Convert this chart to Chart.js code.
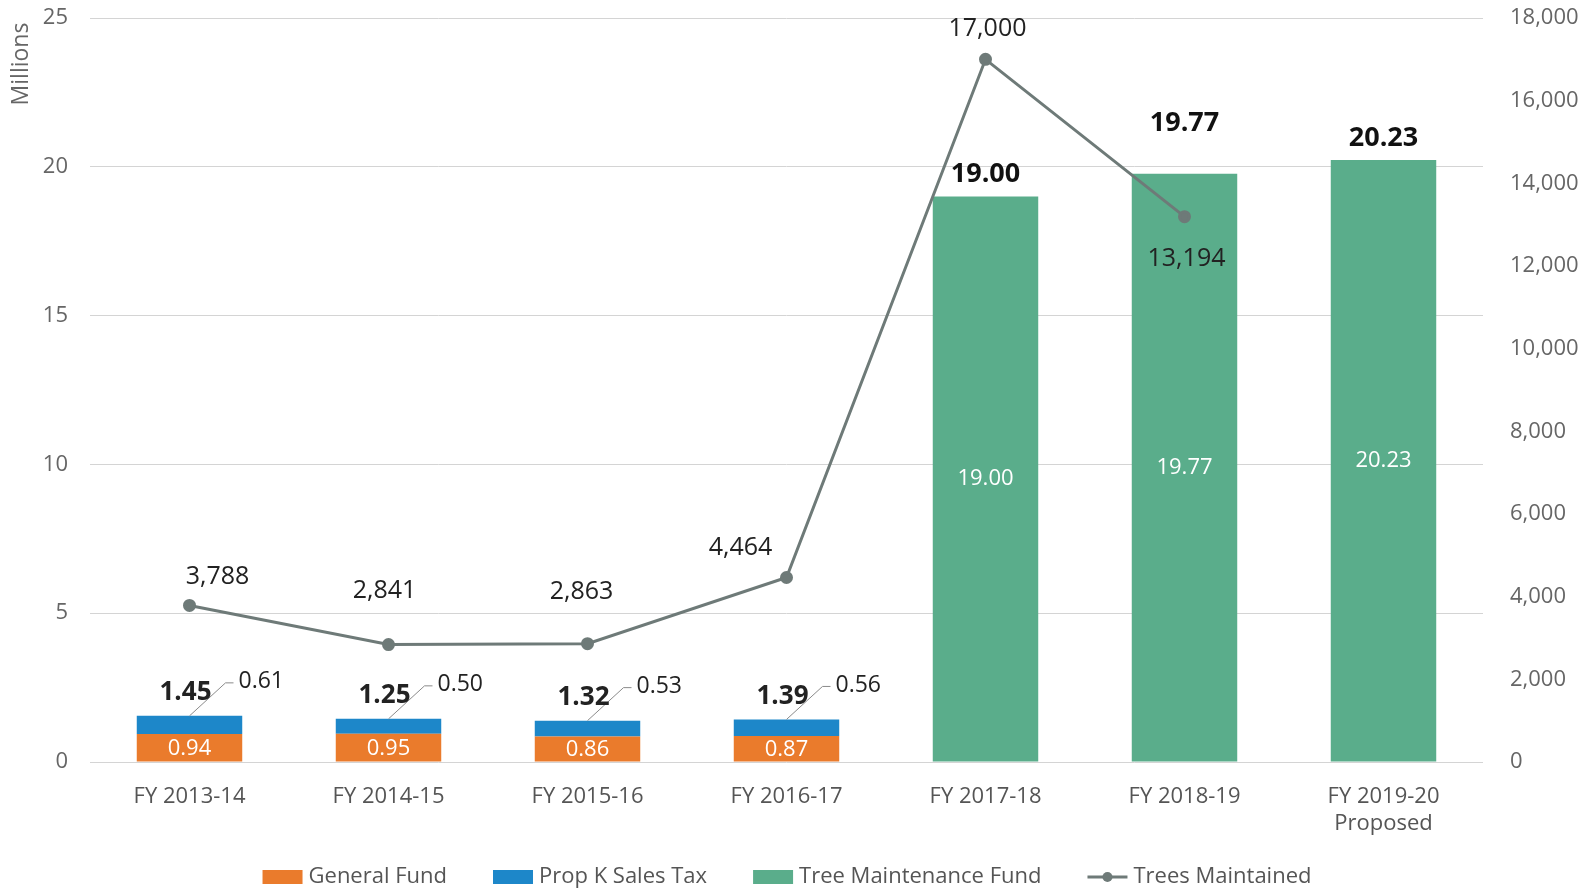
<!DOCTYPE html>
<html>
<head>
    <title>Tree Maintenance Funding</title>
    <script src="https://cdn.jsdelivr.net/npm/chart.js"></script>
    <style>
        body { margin: 0; background: #fff; }
        .chart-container { position: relative; width: 1595px; height: 891px; }
    </style>
</head>
<body>
    <div class="chart-container">
        <canvas id="chartContainer"></canvas>
    </div>

    <script>
        // chart data
        const years = ['FY 2013-14', 'FY 2014-15', 'FY 2015-16', 'FY 2016-17', 'FY 2017-18', 'FY 2018-19', ['FY 2019-20', 'Proposed']];
        const generalFund = [0.94, 0.95, 0.86, 0.87, null, null, null];
        const propK = [0.61, 0.50, 0.53, 0.56, null, null, null];
        const treeFund = [null, null, null, null, 19.00, 19.77, 20.23];
        const totals = [1.45, 1.25, 1.32, 1.39, 19.00, 19.77, 20.23];
        const treesMaintained = [3788, 2841, 2863, 4464, 17000, 13194, null];

        // label nudges for the trees line (dx, dy from the point)
        const lineLabelOffsets = [[28, -29], [-4, -54], [-6, -52], [-46, -30], [2, -30], [2, 42]];

        const ORANGE = '#ea7b2c';
        const BLUE = '#1d87c9';
        const GREEN = '#5aad8b';
        const LINE = '#6e7a78';
        const FONT = "'Open Sans', sans-serif";

        const labelPlugin = {
            id: 'labels',
            afterDatasetsDraw(chart) {
                const ctx = chart.ctx;
                const gf = chart.getDatasetMeta(0).data;
                const pk = chart.getDatasetMeta(1).data;
                const tf = chart.getDatasetMeta(2).data;
                const tr = chart.getDatasetMeta(3).data;
                ctx.save();
                ctx.textBaseline = 'middle';

                for (let i = 0; i < years.length; i++) {
                    if (generalFund[i] != null) {
                        const o = gf[i], b = pk[i];
                        // orange value inside
                        ctx.fillStyle = '#fff';
                        ctx.textAlign = 'center';
                        ctx.font = '22px ' + FONT;
                        ctx.fillText(generalFund[i].toFixed(2), o.x, (o.y + o.base) / 2 + 1);
                        // leader line to the prop K value
                        ctx.strokeStyle = '#8a8a8a';
                        ctx.lineWidth = 1;
                        ctx.beginPath();
                        ctx.moveTo(b.x, b.y);
                        ctx.lineTo(b.x + 36, b.y - 33);
                        ctx.lineTo(b.x + 44, b.y - 33);
                        ctx.stroke();
                        ctx.fillStyle = '#222';
                        ctx.textAlign = 'left';
                        ctx.font = '23px ' + FONT;
                        ctx.fillText(propK[i].toFixed(2), b.x + 49, b.y - 34);
                        // bold total
                        ctx.textAlign = 'center';
                        ctx.font = 'bold 26px ' + FONT;
                        ctx.fillText(totals[i].toFixed(2), b.x - 4, b.y - 23);
                    }
                    if (treeFund[i] != null) {
                        const g = tf[i];
                        ctx.fillStyle = '#fff';
                        ctx.textAlign = 'center';
                        ctx.font = '22px ' + FONT;
                        ctx.fillText(treeFund[i].toFixed(2), g.x, (g.y + g.base) / 2);
                        ctx.fillStyle = '#111';
                        ctx.font = 'bold 27px ' + FONT;
                        const up = i === 5 ? 50 : 22;
                        ctx.fillText(totals[i].toFixed(2), g.x, g.y - up);
                    }
                    if (treesMaintained[i] != null) {
                        const p = tr[i];
                        const off = lineLabelOffsets[i];
                        ctx.fillStyle = '#222';
                        ctx.textAlign = 'center';
                        ctx.font = '25px ' + FONT;
                        ctx.fillText(treesMaintained[i].toLocaleString('en-US'), p.x + off[0], p.y + off[1]);
                    }
                }

                // axis caption
                ctx.save();
                ctx.translate(21, 64);
                ctx.rotate(-Math.PI / 2);
                ctx.fillStyle = '#666';
                ctx.textAlign = 'center';
                ctx.font = '23px ' + FONT;
                ctx.fillText('Millions', 0, 0);
                ctx.restore();

                // legend
                const items = [
                    { text: 'General Fund', color: ORANGE },
                    { text: 'Prop K Sales Tax', color: BLUE },
                    { text: 'Tree Maintenance Fund', color: GREEN },
                    { text: 'Trees Maintained', color: LINE, line: true }
                ];
                ctx.font = '22px ' + FONT;
                const boxW = 40, gapIn = 6, gapOut = 46;
                let total = 0;
                items.forEach((it, k) => {
                    it.w = ctx.measureText(it.text).width;
                    total += boxW + gapIn + it.w + (k < items.length - 1 ? gapOut : 0);
                });
                let x = 787 - total / 2;
                const ly = 877;
                items.forEach(it => {
                    if (it.line) {
                        ctx.strokeStyle = it.color;
                        ctx.lineWidth = 3;
                        ctx.beginPath();
                        ctx.moveTo(x, ly);
                        ctx.lineTo(x + boxW, ly);
                        ctx.stroke();
                        ctx.fillStyle = it.color;
                        ctx.beginPath();
                        ctx.arc(x + boxW / 2, ly, 5, 0, Math.PI * 2);
                        ctx.fill();
                    } else {
                        ctx.fillStyle = it.color;
                        ctx.fillRect(x, ly - 7, boxW, 14);
                    }
                    ctx.fillStyle = '#555';
                    ctx.textAlign = 'left';
                    ctx.fillText(it.text, x + boxW + gapIn, ly);
                    x += boxW + gapIn + it.w + gapOut;
                });
                ctx.restore();
            }
        };

        const ctx = document.getElementById('chartContainer').getContext('2d');
        new Chart(ctx, {
            type: 'bar',
            data: {
                labels: years,
                datasets: [
                    { label: 'General Fund', data: generalFund, backgroundColor: ORANGE, stack: 's', order: 1 },
                    { label: 'Prop K Sales Tax', data: propK, backgroundColor: BLUE, stack: 's', order: 1 },
                    { label: 'Tree Maintenance Fund', data: treeFund, backgroundColor: GREEN, stack: 's', order: 1 },
                    {
                        type: 'line',
                        label: 'Trees Maintained',
                        data: treesMaintained,
                        yAxisID: 'y2',
                        borderColor: LINE,
                        backgroundColor: LINE,
                        borderWidth: 3,
                        pointRadius: 5,
                        pointHoverRadius: 5,
                        spanGaps: false,
                        order: 0
                    }
                ]
            },
            options: {
                responsive: true,
                maintainAspectRatio: false,
                animation: false,
                layout: { padding: { top: 18 } },
                plugins: {
                    legend: { display: false },
                    tooltip: { enabled: false }
                },
                datasets: {
                    bar: { barPercentage: 0.53, categoryPercentage: 1.0 }
                },
                scales: {
                    x: {
                        stacked: true,
                        grid: { display: false },
                        border: { display: false },
                        ticks: { color: '#555', font: { family: FONT, size: 22 }, padding: 14, maxRotation: 0 },
                        afterFit(scale) { scale.height = 129; }
                    },
                    y: {
                        stacked: true,
                        min: 0,
                        max: 25,
                        ticks: { stepSize: 5, color: '#666', font: { family: FONT, size: 22 }, padding: 2 },
                        grid: { color: '#d4d4d4', drawTicks: true, tickLength: 20, tickColor: 'rgba(0,0,0,0)' },
                        border: { display: false },
                        afterFit(scale) { scale.width = 90; }
                    },
                    y2: {
                        position: 'right',
                        min: 0,
                        max: 18000,
                        ticks: {
                            stepSize: 2000,
                            color: '#666',
                            font: { family: FONT, size: 22 },
                            padding: 2,
                            callback: v => v.toLocaleString('en-US')
                        },
                        grid: { drawOnChartArea: false, drawTicks: true, tickLength: 25, tickColor: 'rgba(0,0,0,0)' },
                        border: { display: false },
                        afterFit(scale) { scale.width = 112; }
                    }
                }
            },
            plugins: [labelPlugin]
        });
    </script>
</body>
</html>
